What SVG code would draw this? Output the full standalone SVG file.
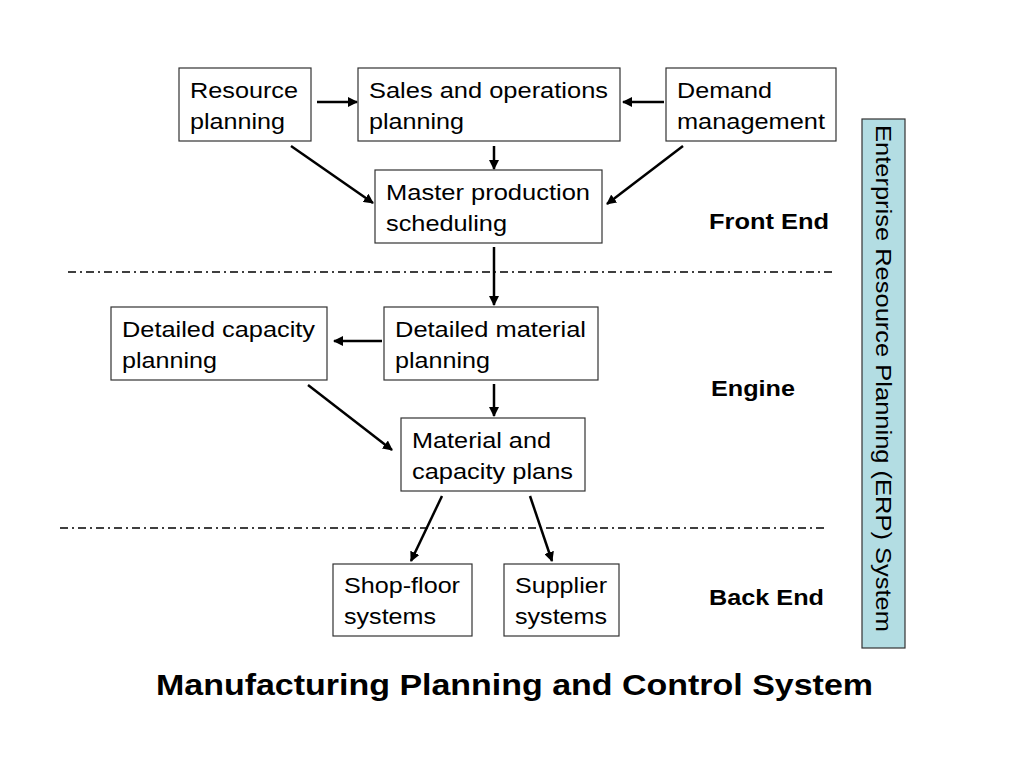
<svg xmlns="http://www.w3.org/2000/svg" width="1024" height="768" viewBox="0 0 1024 768">
<style>
.box{fill:#fff;stroke:#333;stroke-width:1.2}
.t{font-family:"Liberation Sans",Arial,sans-serif;font-size:22px;fill:#000}
.b{font-family:"Liberation Sans",Arial,sans-serif;font-size:22px;font-weight:bold;fill:#000}
.c{stroke:#000;stroke-width:2.5;fill:none;marker-end:url(#ah)}
.d{stroke:#000;stroke-width:1.5;stroke-dasharray:8 4 2 4;fill:none}
</style>
<defs><marker id="ah" viewBox="0 0 10 10" refX="9" refY="5" markerWidth="4" markerHeight="4" orient="auto"><path d="M0,0L10,5L0,10z" fill="#000"/></marker></defs>
<rect width="1024" height="768" fill="#fff"/>
<g id="n1"><rect class="box" x="179" y="68" width="132" height="73"/><text class="t" x="190" y="98" textLength="108" lengthAdjust="spacingAndGlyphs">Resource</text><text class="t" x="190" y="129" textLength="95" lengthAdjust="spacingAndGlyphs">planning</text></g>
<g id="n2"><rect class="box" x="358" y="68" width="262" height="73"/><text class="t" x="369" y="98" textLength="239" lengthAdjust="spacingAndGlyphs">Sales and operations</text><text class="t" x="369" y="129" textLength="95" lengthAdjust="spacingAndGlyphs">planning</text></g>
<g id="n3"><rect class="box" x="666" y="68" width="170" height="73"/><text class="t" x="677" y="98" textLength="95" lengthAdjust="spacingAndGlyphs">Demand</text><text class="t" x="677" y="129" textLength="148" lengthAdjust="spacingAndGlyphs">management</text></g>
<g id="n4"><rect class="box" x="375" y="170" width="227" height="73"/><text class="t" x="386" y="200" textLength="204" lengthAdjust="spacingAndGlyphs">Master production</text><text class="t" x="386" y="231" textLength="121" lengthAdjust="spacingAndGlyphs">scheduling</text></g>
<g id="n5"><rect class="box" x="111" y="307" width="216" height="73"/><text class="t" x="122" y="337" textLength="193" lengthAdjust="spacingAndGlyphs">Detailed capacity</text><text class="t" x="122" y="368" textLength="95" lengthAdjust="spacingAndGlyphs">planning</text></g>
<g id="n6"><rect class="box" x="384" y="307" width="214" height="73"/><text class="t" x="395" y="337" textLength="191" lengthAdjust="spacingAndGlyphs">Detailed material</text><text class="t" x="395" y="368" textLength="95" lengthAdjust="spacingAndGlyphs">planning</text></g>
<g id="n7"><rect class="box" x="401" y="418" width="184" height="73"/><text class="t" x="412" y="448" textLength="139" lengthAdjust="spacingAndGlyphs">Material and</text><text class="t" x="412" y="479" textLength="161" lengthAdjust="spacingAndGlyphs">capacity plans</text></g>
<g id="n8"><rect class="box" x="333" y="564" width="139" height="72"/><text class="t" x="344" y="593" textLength="116" lengthAdjust="spacingAndGlyphs">Shop-floor</text><text class="t" x="344" y="624" textLength="92" lengthAdjust="spacingAndGlyphs">systems</text></g>
<g id="n9"><rect class="box" x="504" y="564" width="115" height="72"/><text class="t" x="515" y="593" textLength="92" lengthAdjust="spacingAndGlyphs">Supplier</text><text class="t" x="515" y="624" textLength="92" lengthAdjust="spacingAndGlyphs">systems</text></g>
<g id="erp"><rect x="862" y="119" width="43" height="529" fill="#b3dde3" stroke="#333" stroke-width="1.2"/><text class="t" transform="translate(876,125) rotate(90)" textLength="507" lengthAdjust="spacingAndGlyphs">Enterprise Resource Planning (ERP) System</text></g>
<g id="labels"><text class="b" x="709" y="229" textLength="120" lengthAdjust="spacingAndGlyphs">Front End</text><text class="b" x="711" y="396" textLength="84" lengthAdjust="spacingAndGlyphs">Engine</text><text class="b" x="709" y="605" textLength="115" lengthAdjust="spacingAndGlyphs">Back End</text>
<text x="156" y="695" textLength="717" lengthAdjust="spacingAndGlyphs" style="font-family:'Liberation Sans',Arial,sans-serif;font-size:29px;font-weight:bold">Manufacturing Planning and Control System</text></g>
<g id="connectors">
<path class="d" d="M68,272H833"/><path class="d" d="M60,528H826"/>
<path class="c" d="M317,102H357"/>
<path class="c" d="M664,102H623"/>
<path class="c" d="M494,146V169"/>
<path class="c" d="M291,146L373,203"/>
<path class="c" d="M683,146L607,204"/>
<path class="c" d="M494,247V305"/>
<path class="c" d="M382,341H334"/>
<path class="c" d="M494,384V416"/>
<path class="c" d="M308,385L392,450"/>
<path class="c" d="M442,496L411,561"/>
<path class="c" d="M530,496L552,561"/>
</g>
</svg>
